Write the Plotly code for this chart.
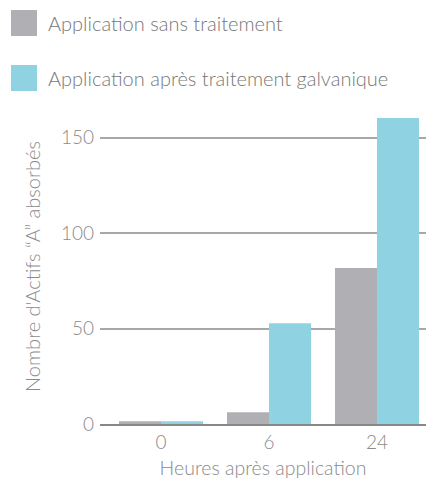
import plotly.graph_objects as go

categories = ["0", "6", "24"]
series_names = ["Application sans traitement", "Application après traitement galvanique"]
sans_traitement = [1.5, 6.2, 81.7]
apres_traitement = [1.5, 52.8, 160.3]
colors = ["#b0afb4", "#8fd3e3"]
y_ticks = [0, 50, 100, 150]

FONT = "Lato"
TXT = "#777777"
AX = "#8a8a8a"

fig = go.Figure()
for name, vals, col in zip(series_names, [sans_traitement, apres_traitement], colors):
    fig.add_trace(go.Bar(x=categories, y=vals, name=name, marker=dict(color=col, line=dict(width=0)),
                         showlegend=False))

# custom legend
for i, (name, col) in enumerate(zip(series_names, colors)):
    y0 = 10 + i * 55
    fig.add_shape(type="rect", xref="paper", yref="paper",
                  x0=(11 - 100) / 326, x1=(37 - 100) / 326,
                  y0=1 - (y0 + 26 - 109) / 315, y1=1 - (y0 - 109) / 315,
                  fillcolor=col, line=dict(width=0))
    fig.add_annotation(xref="paper", yref="paper", x=(46 - 100) / 326, y=1 - (y0 + 13 - 109) / 315,
                       text=name, showarrow=False, xanchor="left", yanchor="middle",
                       font=dict(family=FONT, size=20, color=TXT, weight=300))

fig.update_layout(
    width=426, height=484,
    margin=dict(l=100, r=0, t=109, b=60),
    paper_bgcolor="white", plot_bgcolor="white",
    barmode="group", bargap=0.222, bargroupgap=0,
    font=dict(family=FONT, color=TXT, weight=300),
    xaxis=dict(type="category", range=[-0.565, 2.454], showgrid=False, zeroline=False,
               showline=True, linecolor="#888888", linewidth=1.5,
               ticks="", tickfont=dict(size=19, color=AX, weight=300),
               title=dict(text="Heures après application", font=dict(size=19.5, color=AX, weight=300), standoff=10)),
    yaxis=dict(range=[0, 165], tickvals=y_ticks, showgrid=True, gridcolor="#a8a8a8", gridwidth=1.5,
               zeroline=False, showline=False, ticks="",
               tickfont=dict(size=19, color=AX, weight=300), ticklabelstandoff=5,
               title=dict(text="Nombre d'Actifs “A” absorbés", font=dict(size=20, color=AX, weight=300), standoff=14)),
)

fig.write_html("out.html", config={"displayModeBar": False},
               post_script="document.body.style.margin='0';document.body.style.overflow='hidden';")
